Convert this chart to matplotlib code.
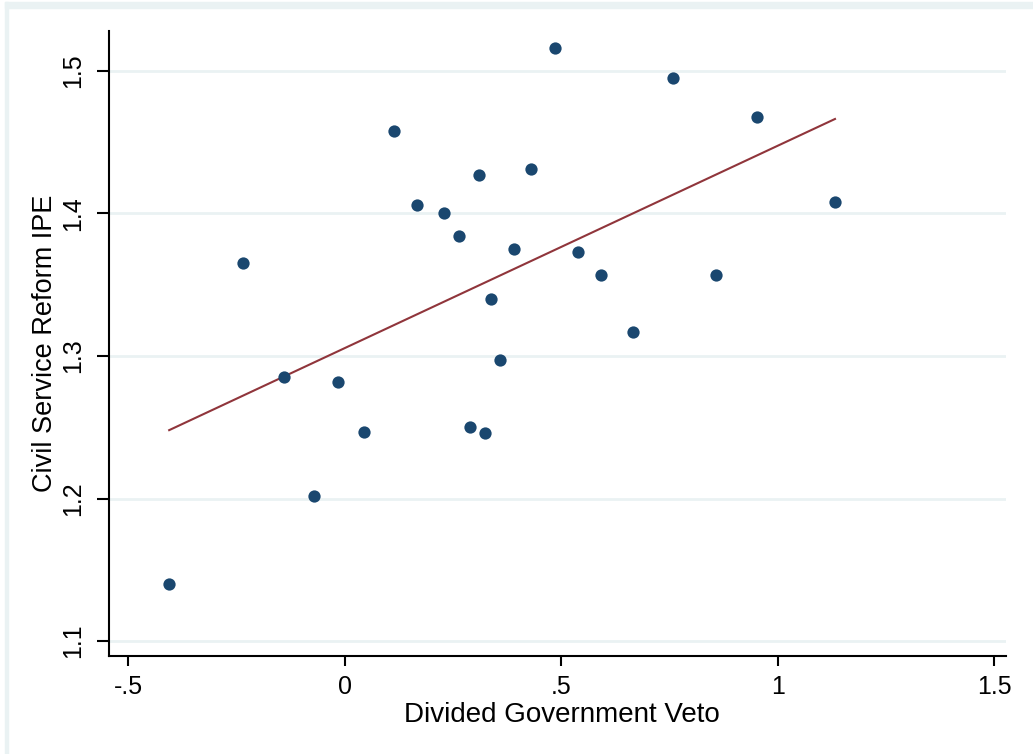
import numpy as np
import matplotlib
matplotlib.use('Agg')
import matplotlib.pyplot as plt
from matplotlib.patches import Rectangle

plt.rcParams['font.family'] = ['Liberation Sans', 'DejaVu Sans']

# Divided government veto (x) vs civil service reform IPE (y)
veto = [-0.406, -0.236, -0.141, -0.072, -0.016, 0.044, 0.113, 0.166, 0.228, 0.263,
        0.289, 0.309, 0.323, 0.337, 0.358, 0.391, 0.430, 0.485, 0.538, 0.591,
        0.665, 0.758, 0.857, 0.951, 1.132]
ipe = [1.140, 1.365, 1.285, 1.202, 1.282, 1.247, 1.458, 1.406, 1.400, 1.384,
       1.250, 1.427, 1.246, 1.340, 1.297, 1.375, 1.431, 1.516, 1.373, 1.357,
       1.317, 1.495, 1.357, 1.468, 1.408]

x_ticks = [-0.5, 0, 0.5, 1, 1.5]
x_ticklabels = ['-.5', '0', '.5', '1', '1.5']
y_ticks = [1.1, 1.2, 1.3, 1.4, 1.5]
y_ticklabels = ['1.1', '1.2', '1.3', '1.4', '1.5']

grid_col = '#eaf2f3'
navy = '#1a476f'
maroon = '#90353b'

fig = plt.figure(figsize=(10.33, 7.54), dpi=100)
W, H = 1033, 754

# light frame band from the outer graph region (cropped)
fig.patches.append(Rectangle((5 / W, 1 - 8 / H), 1, 6 / H, transform=fig.transFigure,
                             color=grid_col, zorder=0))
fig.patches.append(Rectangle((5 / W, 0), 3 / W, 1 - 2 / H, transform=fig.transFigure,
                             color=grid_col, zorder=0))

ax = fig.add_axes([109 / W, 1 - 656 / H, 897 / W, 625 / H])

# linear fit
x = np.array(veto)
y = np.array(ipe)
b, a = np.polyfit(x, y, 1)
xf = np.array([x.min(), x.max()])
ax.plot(xf, a + b * xf, color=maroon, lw=1.5, zorder=2)

ax.scatter(x, y, s=78, color=navy, marker='o', linewidths=0, zorder=3)

ax.set_xlim(-0.545, 1.527)
ax.set_ylim(1.0895, 1.528)

ax.set_xticks(x_ticks)
ax.set_xticklabels(x_ticklabels)
ax.set_yticks(y_ticks)
ax.set_yticklabels(y_ticklabels)

ax.grid(axis='y', color=grid_col, lw=2)
ax.set_axisbelow(True)

for s in ['top', 'right']:
    ax.spines[s].set_visible(False)
for s in ['left', 'bottom']:
    ax.spines[s].set_linewidth(1.5)

ax.tick_params(axis='x', length=7, width=1.5, pad=7, labelsize=18)
ax.tick_params(axis='y', length=9, width=1.5, pad=8, labelsize=18, labelrotation=90)
for lab in ax.get_yticklabels():
    lab.set_va('center')

ax.set_xlabel('Divided Government Veto', fontsize=20, va='top')
ax.xaxis.set_label_coords(0.505, -0.073)
ax.set_ylabel('Civil Service Reform IPE', fontsize=19.5, va='center')
ax.yaxis.set_label_coords(-0.071, 0.5)

fig.savefig('out.png', dpi=100)
